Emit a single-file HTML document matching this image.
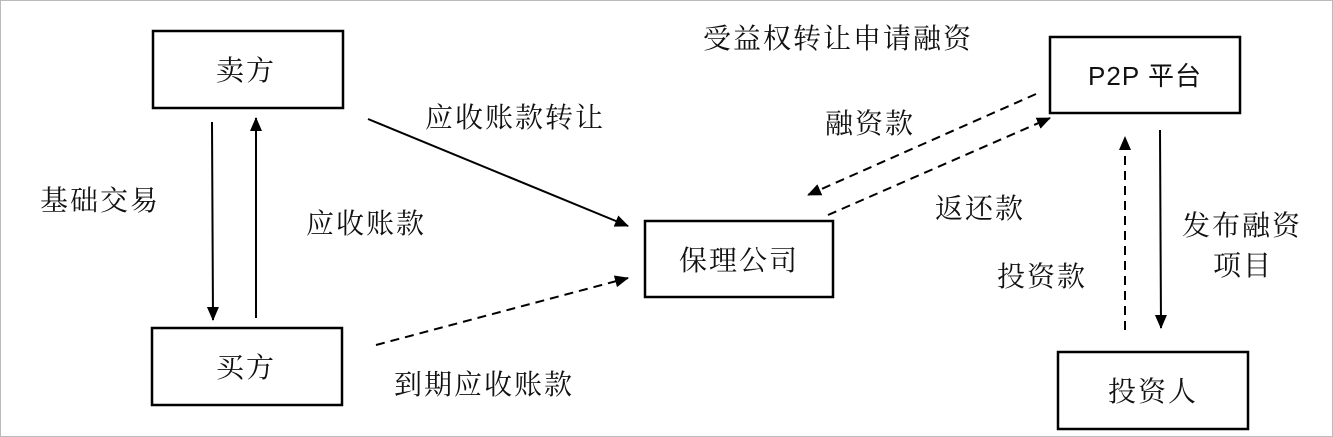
<!DOCTYPE html>
<html><head><meta charset="utf-8"><style>
html,body{margin:0;padding:0;background:#fff;}
svg{display:block;}
text{font-family:"Liberation Serif","Noto Serif CJK SC","Noto Sans CJK SC",serif;font-size:28px;letter-spacing:2px;fill:#111;}
</style></head><body>
<svg width="1333" height="437" viewBox="0 0 1333 437" xmlns="http://www.w3.org/2000/svg">
<defs>
<marker id="a" markerWidth="14" markerHeight="14" refX="13" refY="6" orient="auto" markerUnits="userSpaceOnUse" viewBox="0 0 14 12">
<path d="M0,0 L14,6 L0,12 z" fill="#000"/></marker>
</defs>
<rect x="0.5" y="0.5" width="1332" height="436" fill="#fff" stroke="#bbb"/>
<g fill="none" stroke="#000" stroke-width="2.5">
<rect x="153" y="31" width="190" height="77"/>
<rect x="152" y="328" width="190" height="77"/>
<rect x="645" y="221" width="188" height="76"/>
<rect x="1050" y="37" width="190" height="76"/>
<rect x="1058" y="352" width="190" height="77"/>
</g>
<g stroke="#000" stroke-width="2" fill="none">
<line x1="212" y1="122" x2="213" y2="320" marker-end="url(#a)"/>
<line x1="256" y1="318" x2="256" y2="118" marker-end="url(#a)"/>
<line x1="368" y1="119" x2="628" y2="226" marker-end="url(#a)"/>
<line x1="1160" y1="130" x2="1161" y2="328" marker-end="url(#a)"/>
</g>
<g stroke="#000" stroke-width="2" fill="none" stroke-dasharray="9,6">
<line x1="376" y1="345" x2="628" y2="278" marker-end="url(#a)"/>
<line x1="1036" y1="94" x2="808" y2="195" marker-end="url(#a)"/>
<line x1="828" y1="215" x2="1050" y2="118" marker-end="url(#a)"/>
<line x1="1125" y1="330" x2="1125" y2="137" marker-end="url(#a)"/>
</g>
<text x="246" y="80" text-anchor="middle">卖方</text>
<text x="246" y="377" text-anchor="middle">买方</text>
<text x="739" y="270" text-anchor="middle">保理公司</text>
<text x="1145" y="85" text-anchor="middle" style="font-family:'Liberation Sans','Noto Sans CJK SC',sans-serif;font-size:26px;letter-spacing:1px">P2P 平台</text>
<text x="1153" y="401" text-anchor="middle">投资人</text>
<text x="703" y="48">受益权转让申请融资</text>
<text x="425" y="127">应收账款转让</text>
<text x="40" y="210">基础交易</text>
<text x="306" y="233">应收账款</text>
<text x="394" y="394">到期应收账款</text>
<text x="825" y="133">融资款</text>
<text x="935" y="218">返还款</text>
<text x="997" y="286">投资款</text>
<text x="1182" y="235">发布融资</text>
<text x="1213" y="275">项目</text>
</svg>
</body></html>
